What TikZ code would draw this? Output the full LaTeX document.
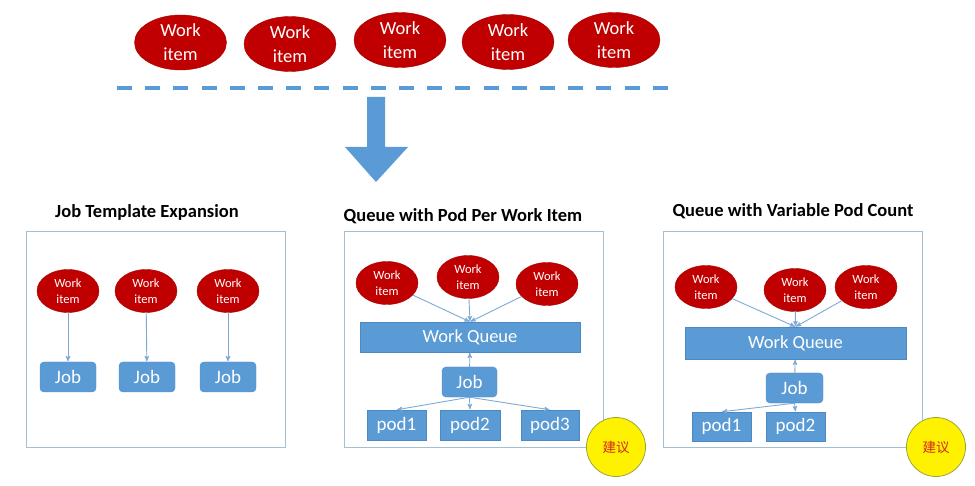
\documentclass[tikz,border=0pt]{standalone}
\usepackage{fontspec}
\setmainfont{Carlito}
\newfontfamily\cjk{Noto Sans CJK SC}
\usepackage{tikz}
\usetikzlibrary{
  arrows,
  shapes.geometric,
  chains,
  scopes
}
\definecolor{itemred}{HTML}{C00000}
\definecolor{itemdark}{HTML}{A00000}
\definecolor{qblue}{HTML}{5B9BD5}
\definecolor{qedge}{HTML}{4C88C2}
\definecolor{linkblue}{HTML}{7EA9D6}
\definecolor{panelline}{HTML}{A3C0D3}
\definecolor{noteedge}{HTML}{9AA53A}
\definecolor{notered}{HTML}{D9261C}

\begin{document}
\begin{tikzpicture}[x=1pt,y=-1pt,
      bigitem/.style={
         ellipse,
         inner sep=0pt,
         minimum width=92pt,
         minimum height=55pt,
         fill=itemred,
         draw=itemdark,
         text=white,
         align=center,
         font=\fontsize{18.5}{24}\selectfont
      },
      smallitem/.style={
         bigitem,
         minimum width=62pt,
         minimum height=43pt,
         font=\fontsize{12.5}{16}\selectfont
      },
      jobbox/.style={
         rectangle,
         rounded corners=4pt,
         inner sep=0pt,
         minimum width=56pt,
         minimum height=30pt,
         fill=qblue,
         draw=qedge,
         text=white,
         font=\fontsize{19}{22}\selectfont
      },
      queue/.style={jobbox, rounded corners=0pt, minimum width=221pt, minimum height=31pt,
         font=\fontsize{18.5}{22}\selectfont},
      podbox/.style={jobbox, rounded corners=0pt, minimum width=59pt, minimum height=30pt},
      panel/.style={rectangle, draw=panelline, line width=1pt, inner sep=0pt,
         minimum width=259pt, minimum height=215pt},
      heading/.style={anchor=base, font=\bfseries\fontsize{18.5}{22}\selectfont},
      note/.style={circle, inner sep=0pt, minimum size=59pt, fill=yellow, draw=noteedge,
         line width=0.8pt, text=notered, font=\cjk\fontsize{13.5}{16}\selectfont},
      >=stealth',
      tip/.style={->, draw=linkblue, line width=0.9pt, shorten >=0.5pt},
      every join/.style={draw=linkblue}
    ]
    \useasboundingbox (0,0) rectangle (975,486);

    % work items waiting
    \node (w1) [bigitem] at (180.5,42.5) {Work\\item};
    \node (w2) [bigitem] at (290,44) {Work\\item};
    \node (w3) [bigitem] at (400,40) {Work\\item};
    \node (w4) [bigitem] at (508,42) {Work\\item};
    \node (w5) [bigitem] at (614,40) {Work\\item};
    \draw[qblue, line width=4.5pt, dash pattern=on 15pt off 13.2pt] (117,88) -- (668,88);
    \fill[qblue] (367,97) -- (385,97) -- (385,147) -- (408,147) -- (376,182)
                 -- (345,147) -- (367,147) -- cycle;

    % headings
    \node (t1) [heading] at (147,218) {Job Template Expansion};
    \node (t2) [heading] at (463,222) {Queue with Pod Per Work Item};
    \node (t3) [heading] at (793,217) {Queue with Variable Pod Count};

    \node (box1) [panel] at (155.5,339.5) {};
    \node (box2) [panel] at (474,339.5) {};
    \node (box3) [panel] at (793,339.5) {};

    % job template expansion
    \node (a1) [smallitem] at (68,291) {Work\\item};
    \node (a2) [smallitem] at (146,291) {Work\\item};
    \node (a3) [smallitem] at (228,291) {Work\\item};
    \node (aj1) [jobbox] at (68,377) {Job};
    \node (aj2) [jobbox] at (147,377) {Job};
    \node (aj3) [jobbox] at (228,377) {Job};
  { [start chain]
       \chainin (a1);
       \chainin (aj1)    [join=by tip];
  }
  { [start chain]
       \chainin (a2);
       \chainin (aj2)    [join=by tip];
  }
  { [start chain]
       \chainin (a3);
       \chainin (aj3)    [join=by tip];
  }

    % queue with pod per work item
    \node (b1) [smallitem] at (387,283) {Work\\item};
    \node (b2) [smallitem] at (468,277) {Work\\item};
    \node (b3) [smallitem] at (547,284) {Work\\item};
    \node (bq) [queue, minimum width=220pt, minimum height=30pt] at (470,337) {Work Queue};
    \node (bj) [jobbox, minimum width=55pt] at (469.5,382) {Job};
    \node (bp1) [podbox] at (396.5,425) {pod1};
    \node (bp2) [podbox, minimum width=60pt] at (470,425) {pod2};
    \node (bp3) [podbox, minimum width=58pt] at (550,425) {pod3};
    \draw[tip] (b1) -- (bq.north);
    \draw[tip] (b2) -- (bq.north);
    \draw[tip] (b3) -- (bq.north);
  { [start chain]
       \chainin (bj);
       \chainin (bq)    [join=by tip];
  }
    \draw[tip] (bj.south) -- (bp1.north);
    \draw[tip] (bj.south) -- (bp2.north);
    \draw[tip] (bj.south) -- (bp3.north);
    \node (bn) [note] at (616,447) {建议};

    % queue with variable pod count
    \node (c1) [smallitem] at (706,287) {Work\\item};
    \node (c2) [smallitem] at (795,290) {Work\\item};
    \node (c3) [smallitem] at (866,287) {Work\\item};
    \node (cq) [queue, minimum height=32pt] at (795.5,343) {Work Queue};
    \node (cj) [jobbox, minimum width=57pt] at (794.5,388) {Job};
    \node (cp1) [podbox, minimum height=29pt] at (721.5,426.5) {pod1};
    \node (cp2) [podbox, minimum height=29pt] at (795.5,426.5) {pod2};
    \draw[tip] (c1) -- (cq.north);
    \draw[tip] (c2) -- (cq.north);
    \draw[tip] (c3) -- (cq.north);
  { [start chain]
       \chainin (cj);
       \chainin (cq)    [join=by tip];
  }
    \draw[tip] (cj.south) -- (cp1.north);
    \draw[tip] (cj.south) -- (cp2.north);
    \node (cn) [note] at (936,447) {建议};
\end{tikzpicture}
\end{document}
